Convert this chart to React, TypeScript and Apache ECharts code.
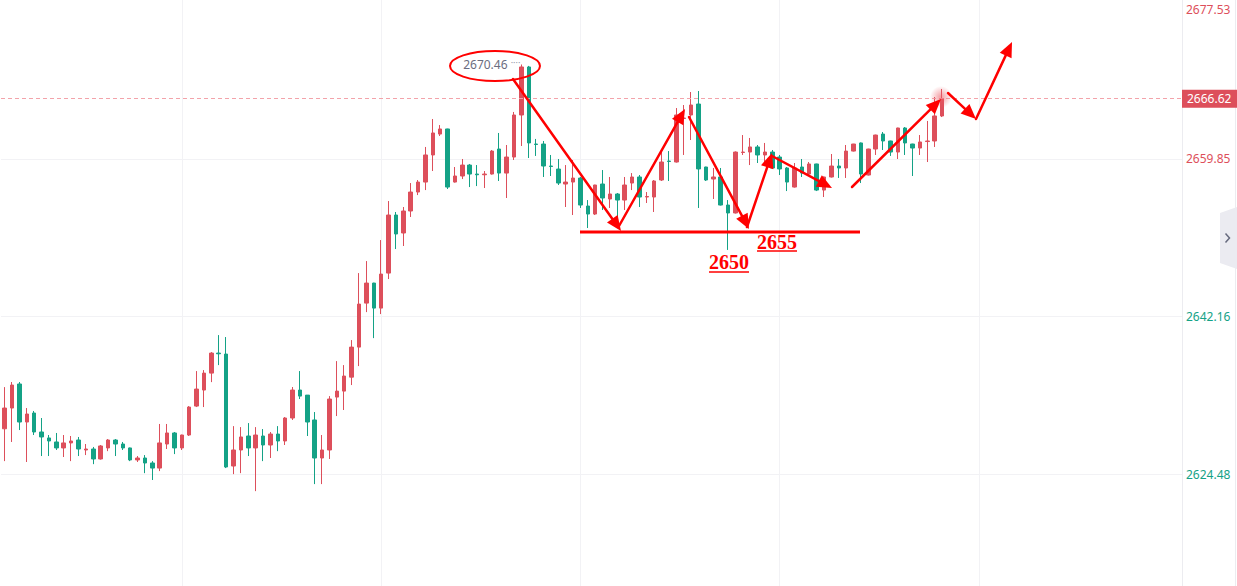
import React, { useEffect, useRef } from "react";
import * as echarts from "echarts";

const RED = "#dd4f5b";
const GREEN = "#14a286";
const FONT = "'Noto Sans', 'Liberation Sans', sans-serif";

// [open, close, low, high]
const candles: number[][] = [
  [2629.56, 2631.89, 2625.93, 2634.24],
  [2631.89, 2634.47, 2628.08, 2634.81],
  [2634.59, 2630.32, 2629.42, 2634.81],
  [2630.32, 2631.22, 2625.83, 2631.89],
  [2631.33, 2629.2, 2628.86, 2631.56],
  [2629.2, 2628.64, 2626.5, 2630.77],
  [2628.53, 2628.19, 2626.5, 2628.86],
  [2628.08, 2627.41, 2627.18, 2629.09],
  [2627.41, 2627.97, 2626.39, 2628.86],
  [2627.97, 2628.19, 2625.93, 2628.75],
  [2628.3, 2627.29, 2626.5, 2628.64],
  [2627.18, 2627.29, 2626.61, 2627.85],
  [2627.29, 2626.17, 2625.59, 2627.52],
  [2626.17, 2627.63, 2626.1, 2627.74],
  [2627.41, 2628.3, 2627.05, 2628.41],
  [2628.3, 2627.85, 2626.5, 2628.41],
  [2627.85, 2627.41, 2627.18, 2628.08],
  [2627.41, 2626.06, 2625.93, 2627.45],
  [2626.06, 2626.28, 2625.83, 2626.5],
  [2626.28, 2625.72, 2624.58, 2626.61],
  [2625.72, 2625.15, 2623.81, 2625.93],
  [2625.15, 2627.97, 2624.81, 2630.1],
  [2627.85, 2629.09, 2627.29, 2630.1],
  [2629.09, 2627.41, 2626.72, 2629.2],
  [2627.41, 2628.86, 2627.18, 2628.9],
  [2628.86, 2632.0, 2628.75, 2632.11],
  [2632.11, 2634.02, 2632.0, 2636.04],
  [2633.91, 2635.81, 2632.0, 2636.15],
  [2635.81, 2638.06, 2634.8, 2638.17],
  [2638.06, 2637.98, 2636.71, 2640.08],
  [2637.95, 2625.27, 2625.15, 2639.86],
  [2625.38, 2627.18, 2624.47, 2629.86],
  [2627.18, 2628.64, 2624.58, 2629.75],
  [2628.75, 2627.41, 2626.5, 2630.2],
  [2627.41, 2628.86, 2622.56, 2629.75],
  [2628.75, 2627.74, 2625.93, 2629.53],
  [2627.74, 2628.97, 2626.28, 2629.2],
  [2628.97, 2628.19, 2627.05, 2629.86],
  [2628.19, 2630.77, 2627.74, 2630.88],
  [2630.77, 2633.91, 2630.55, 2634.25],
  [2633.91, 2633.23, 2632.9, 2636.04],
  [2633.34, 2630.32, 2628.75, 2633.34],
  [2630.55, 2626.28, 2623.35, 2631.44],
  [2626.28, 2627.18, 2623.35, 2628.86],
  [2627.18, 2632.9, 2626.17, 2633.23],
  [2633.12, 2633.79, 2630.99, 2637.16],
  [2633.79, 2635.48, 2631.67, 2636.71],
  [2635.36, 2638.73, 2634.47, 2639.52],
  [2638.73, 2643.56, 2636.6, 2647.04],
  [2643.67, 2645.92, 2642.66, 2648.39],
  [2645.92, 2643.11, 2639.74, 2645.95],
  [2643.11, 2646.93, 2642.44, 2650.75],
  [2647.04, 2653.56, 2646.37, 2655.13],
  [2653.56, 2651.43, 2649.74, 2653.9],
  [2651.54, 2654.01, 2650.08, 2654.46],
  [2654.01, 2656.14, 2653.34, 2657.15],
  [2656.14, 2657.26, 2655.8, 2657.49],
  [2657.26, 2660.3, 2656.36, 2661.2],
  [2660.3, 2662.77, 2658.5, 2664.34],
  [2662.65, 2663.22, 2662.43, 2663.66],
  [2663.22, 2656.7, 2656.48, 2663.25],
  [2657.26, 2657.94, 2657.2, 2658.95],
  [2657.94, 2659.17, 2657.6, 2659.85],
  [2659.17, 2658.16, 2656.7, 2659.29],
  [2658.16, 2658.08, 2656.81, 2659.17],
  [2658.08, 2658.16, 2656.59, 2658.5],
  [2658.16, 2660.74, 2658.1, 2660.86],
  [2660.97, 2658.27, 2657.38, 2662.77],
  [2658.27, 2660.07, 2655.47, 2661.42],
  [2660.07, 2664.79, 2659.74, 2665.13],
  [2664.79, 2670.18, 2661.31, 2670.46],
  [2670.18, 2661.65, 2659.96, 2670.3],
  [2661.53, 2661.48, 2660.19, 2662.1],
  [2661.53, 2659.06, 2657.83, 2661.87],
  [2659.06, 2659.01, 2657.94, 2660.3],
  [2658.72, 2657.15, 2656.93, 2659.85],
  [2657.04, 2657.26, 2654.46, 2659.17],
  [2657.26, 2657.71, 2653.56, 2659.74],
  [2657.71, 2654.68, 2654.35, 2657.83],
  [2654.57, 2653.67, 2652.1, 2655.24],
  [2653.67, 2656.93, 2653.56, 2656.95],
  [2657.04, 2655.47, 2654.12, 2658.61],
  [2655.36, 2655.92, 2654.35, 2657.83],
  [2655.92, 2655.24, 2653.0, 2656.03],
  [2655.24, 2656.93, 2654.12, 2657.83],
  [2657.15, 2657.83, 2656.36, 2658.27],
  [2657.83, 2655.58, 2654.46, 2658.05],
  [2655.58, 2655.64, 2654.91, 2656.14],
  [2655.58, 2657.38, 2653.9, 2657.49],
  [2657.49, 2659.51, 2657.38, 2660.63],
  [2659.62, 2659.57, 2657.38, 2660.74],
  [2659.51, 2664.79, 2659.45, 2665.57],
  [2664.4, 2664.45, 2660.3, 2665.91],
  [2664.79, 2665.91, 2661.98, 2667.37],
  [2666.02, 2658.73, 2654.35, 2667.48],
  [2658.95, 2657.49, 2657.38, 2658.98],
  [2657.6, 2657.83, 2655.36, 2658.84],
  [2657.83, 2654.68, 2654.63, 2658.84],
  [2654.68, 2653.79, 2649.64, 2655.24],
  [2653.79, 2660.63, 2653.73, 2660.7],
  [2660.58, 2660.63, 2660.3, 2662.54],
  [2660.63, 2661.2, 2659.17, 2662.21],
  [2661.2, 2660.3, 2659.4, 2661.42],
  [2660.3, 2660.63, 2659.4, 2661.65],
  [2660.63, 2658.84, 2658.73, 2660.86],
  [2660.07, 2658.73, 2658.05, 2660.3],
  [2658.84, 2657.26, 2656.25, 2658.95],
  [2656.7, 2658.84, 2656.64, 2659.4],
  [2658.95, 2658.27, 2657.83, 2659.85],
  [2658.16, 2659.29, 2658.05, 2659.51],
  [2659.29, 2656.36, 2656.25, 2659.32],
  [2656.36, 2657.83, 2655.58, 2657.88],
  [2657.83, 2659.06, 2657.77, 2660.41],
  [2659.06, 2658.84, 2657.72, 2659.85],
  [2658.84, 2660.74, 2657.72, 2661.42],
  [2660.74, 2661.53, 2660.69, 2661.55],
  [2661.65, 2658.16, 2657.15, 2661.7],
  [2658.05, 2660.97, 2658.0, 2661.0],
  [2660.97, 2662.54, 2660.3, 2662.58],
  [2662.65, 2661.87, 2660.86, 2662.88],
  [2661.87, 2660.63, 2660.19, 2661.9],
  [2660.63, 2663.33, 2659.85, 2663.36],
  [2663.33, 2661.65, 2660.3, 2663.44],
  [2661.53, 2661.08, 2657.94, 2661.56],
  [2661.08, 2661.76, 2660.3, 2662.54],
  [2661.81, 2661.87, 2659.51, 2664.12],
  [2661.87, 2664.68, 2661.2, 2666.81],
  [2664.68, 2666.62, 2664.56, 2667.71],
];

const SLOT_COUNT = 160;
const categories: string[] = Array.from({ length: SLOT_COUNT }, (_, i) => String(i));

const lowerLevels = [2624.48, 2642.16];
const upperLevels = [2659.85];
const topLevel = 2677.53;
const lastPrice = 2666.62;
const yMin = 2611.91;
const yMax = 2677.7;
const verticalGridIdx = [24, 51, 78, 105, 132];

// hand-drawn annotation arrows: [x1, y1, tipX, tipY]
const arrows: number[][] = [
  [513, 79, 621, 231],
  [619, 226, 685, 109],
  [689, 117, 749, 229],
  [747, 227, 772, 153],
  [772, 156, 832, 188],
  [852, 187, 941, 99],
  [948, 93, 976, 119],
  [976, 119, 1012, 42],
];

function arrowGraphics(a: number[]) {
  const [x1, y1, x2, y2] = a;
  const dx = x2 - x1;
  const dy = y2 - y1;
  const len = Math.hypot(dx, dy);
  const ux = dx / len;
  const uy = dy / len;
  const L = 15;
  const W = 6.5;
  const bx = x2 - ux * L;
  const by = y2 - uy * L;
  return [
    {
      type: "line",
      z: 100,
      silent: true,
      shape: { x1, y1, x2: bx + ux * 3, y2: by + uy * 3 },
      style: { stroke: "#ff0000", lineWidth: 2.5, lineCap: "round" },
    },
    {
      type: "polygon",
      z: 100,
      silent: true,
      shape: {
        points: [
          [x2, y2],
          [bx - uy * W, by + ux * W],
          [bx + uy * W, by - ux * W],
        ],
      },
      style: { fill: "#ff0000" },
    },
  ];
}

export default function App() {
  const ref = useRef<HTMLDivElement>(null);

  useEffect(() => {
    if (!ref.current) return;
    const chart = echarts.init(ref.current, null, { renderer: "svg" });

    let maxIdx = 0;
    candles.forEach((c, i) => {
      if (c[3] > candles[maxIdx][3]) maxIdx = i;
    });
    const maxHigh = candles[maxIdx][3];

    const levelLabel = (color: string, extra: any = {}) => ({
      show: true,
      position: "end",
      distance: 4,
      color,
      fontSize: 12,
      fontFamily: FONT,
      formatter: (p: any) => Number(p.value).toFixed(2),
      ...extra,
    });

    const gridLineData: any[] = [
      ...lowerLevels.map((v) => ({ yAxis: v, label: levelLabel(GREEN) })),
      ...upperLevels.map((v) => ({ yAxis: v, label: levelLabel(RED) })),
      {
        yAxis: topLevel,
        lineStyle: { color: "rgba(0,0,0,0)" },
        label: levelLabel(RED, { offset: [0, 8] }),
      },
      ...verticalGridIdx.map((i) => ({
        xAxis: categories[i],
        label: { show: false },
      })),
    ];

    const annoFont = "bold 20px 'Liberation Serif', serif";

    const graphic: any[] = [
      {
        type: "line",
        silent: true,
        shape: { x1: 1182.5, y1: 0, x2: 1182.5, y2: 586 },
        style: { stroke: "#ececf0", lineWidth: 1 },
      },
      {
        type: "line",
        silent: true,
        shape: { x1: 1235.5, y1: 0, x2: 1235.5, y2: 586 },
        style: { stroke: "#ececf0", lineWidth: 1 },
      },
      {
        type: "polygon",
        silent: true,
        shape: {
          points: [
            [1237, 207],
            [1220, 213],
            [1220, 263],
            [1237, 269],
          ],
        },
        style: { fill: "#ebebf1" },
      },
      {
        type: "polyline",
        silent: true,
        shape: {
          points: [
            [1225.5, 233.5],
            [1229.5, 238],
            [1225.5, 242.5],
          ],
        },
        style: { stroke: "#666a7e", lineWidth: 1.5, fill: null },
      },
      {
        type: "circle",
        silent: true,
        z: 50,
        shape: { cx: 941, cy: 97, r: 11 },
        style: {
          fill: {
            type: "radial",
            x: 0.5,
            y: 0.5,
            r: 0.5,
            colorStops: [
              { offset: 0, color: "rgba(236,90,100,0.6)" },
              { offset: 1, color: "rgba(236,90,100,0)" },
            ],
          },
        },
      },
      {
        type: "ellipse",
        silent: true,
        z: 100,
        shape: { cx: 495, cy: 66, rx: 45, ry: 15 },
        style: { stroke: "#ff0000", lineWidth: 2, fill: null },
      },
      {
        type: "line",
        silent: true,
        z: 100,
        shape: { x1: 580, y1: 232, x2: 860, y2: 232 },
        style: { stroke: "#ff0000", lineWidth: 3 },
      },
      {
        type: "text",
        silent: true,
        z: 100,
        x: 757,
        y: 241.5,
        style: {
          text: "2655",
          fill: "#ff0000",
          font: annoFont,
          textVerticalAlign: "middle",
        },
      },
      {
        type: "line",
        silent: true,
        z: 100,
        shape: { x1: 757, y1: 251, x2: 797, y2: 251 },
        style: { stroke: "#ff0000", lineWidth: 1.5 },
      },
      {
        type: "text",
        silent: true,
        z: 100,
        x: 709,
        y: 262,
        style: {
          text: "2650",
          fill: "#ff0000",
          font: annoFont,
          textVerticalAlign: "middle",
        },
      },
      {
        type: "line",
        silent: true,
        z: 100,
        shape: { x1: 709, y1: 272, x2: 749, y2: 272 },
        style: { stroke: "#ff0000", lineWidth: 1.5 },
      },
      ...arrows.flatMap((a) => arrowGraphics(a)),
    ];

    chart.setOption({
      animation: false,
      backgroundColor: "#ffffff",
      grid: { left: 1, right: 55, top: 0, bottom: 0, containLabel: false },
      xAxis: {
        type: "category",
        data: categories,
        boundaryGap: true,
        show: false,
      },
      yAxis: {
        type: "value",
        min: yMin,
        max: yMax,
        show: false,
      },
      series: [
        {
          type: "line",
          data: [],
          silent: true,
          markLine: {
            silent: true,
            z: 1,
            symbol: ["none", "none"],
            lineStyle: { color: "#f2f2f5", width: 1, type: "solid" },
            data: gridLineData,
          },
        },
        {
          type: "candlestick",
          data: candles,
          barWidth: 4,
          z: 3,
          itemStyle: {
            color: RED,
            color0: GREEN,
            borderColor: RED,
            borderColor0: GREEN,
            borderWidth: 1,
          },
          markLine: {
            silent: true,
            z: 4,
            symbol: ["none", "none"],
            lineStyle: { color: "#f3a3aa", width: 1, type: [4, 3] },
            data: [
              {
                yAxis: lastPrice,
                label: {
                  show: true,
                  position: "end",
                  distance: 0,
                  color: "#ffffff",
                  backgroundColor: RED,
                  padding: [3, 6, 3, 5],
                  fontSize: 12,
                  fontFamily: FONT,
                  formatter: (p: any) => Number(p.value).toFixed(2),
                },
              },
            ],
          },
          markPoint: {
            silent: true,
            symbol: "circle",
            symbolSize: 0.1,
            itemStyle: { color: "rgba(0,0,0,0)" },
            data: [
              {
                coord: [categories[maxIdx], maxHigh],
                value: maxHigh,
                label: {
                  show: true,
                  position: "left",
                  distance: 1,
                  fontFamily: FONT,
                  formatter: (p: any) =>
                    "{a|" + Number(p.value).toFixed(2) + "} {b|····}",
                  rich: {
                    a: { color: "#6b6d80", fontSize: 12, fontFamily: FONT },
                    b: { color: "#9a9cab", fontSize: 9, fontFamily: FONT, padding: [0, 0, 4, 0] },
                  },
                },
              },
            ],
          },
        },
      ],
      graphic,
    });

    return () => {
      chart.dispose();
    };
  }, []);

  return (
    <div
      ref={ref}
      style={{ position: "fixed", left: 0, top: 0, width: 1237, height: 586 }}
    />
  );
}
